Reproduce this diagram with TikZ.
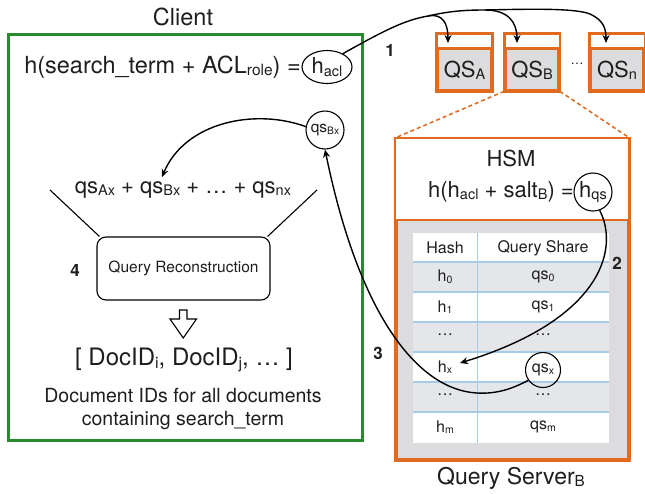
\documentclass[tikz,border=0pt]{standalone}
\usepackage{fontspec}
\setmainfont{TeX Gyre Heros}
\usetikzlibrary{arrows.meta,shapes.geometric,calc}
\definecolor{cgreen}{HTML}{2A8A2E}
\definecolor{qorange}{HTML}{E06A1E}
\definecolor{boxgray}{HTML}{DCDCDE}
\definecolor{rowgray}{HTML}{E4E6EA}
\definecolor{tblue}{HTML}{A6CBE6}
\definecolor{ink}{HTML}{1E1E1E}
% subscript set a little below the baseline at about two thirds of the size
\makeatletter
\newcommand\lo[1]{\raisebox{-0.1em}{\fontsize{\fpeval{0.66*\f@size}}{0}\selectfont #1}}
\makeatother
\begin{document}
\begin{tikzpicture}[x=1pt,y=-1pt,
  every node/.style={inner sep=0pt, text=ink},
  big/.style={font=\fontsize{22}{26}\selectfont},
  wide/.style={font=\fontsize{23.5}{27}\selectfont},
  mid/.style={font=\fontsize{19.5}{23.5}\selectfont},
  small/.style={font=\fontsize{15.5}{18}\selectfont},
  cell/.style={font=\fontsize{16}{19}\selectfont},
  num/.style={font=\fontsize{17}{20}\selectfont\bfseries},
  arr/.style={draw=black, line width=1.4pt, -{Stealth[length=8pt,width=7pt]}},
  ring/.style={draw=black, line width=1.1pt, circle, inner sep=1pt},
  qsbox/.style={draw=qorange, line width=2.6pt, fill=boxgray, minimum width=53pt, minimum height=55pt},
]
\fill[white] (0,0) rectangle (645,493);
\useasboundingbox (0,0) rectangle (645,493);

% ---------------- client ----------------
\node[draw=cgreen, line width=2.6pt, minimum width=354pt, minimum height=406pt, anchor=north west] (client) at (7,33) {};
\node[wide] (clientlbl) at (183,17) {Client};

\node[wide, anchor=east] (eq) at (301,67) {h(search\_term + ACL\lo{role}) =};
\node[big, draw=black, line width=1.1pt, ellipse, inner sep=0.5pt, minimum width=50pt, minimum height=33pt] (hacl) at (327,67) {h\lo{acl}};

\node[ring, small, minimum size=38pt] (qsbx) at (325,130) {qs\lo{Bx}};

\node[big] (sum) at (183,190) {qs\lo{Ax} + qs\lo{Bx} + … + qs\lo{nx}};
\coordinate (sumB) at (162,177);
\draw[arr] (qsbx.170) .. controls (255,108) and (185,122) .. (sumB);

\node[small, draw=black, line width=1.1pt, rounded corners=9pt, minimum width=173pt, minimum height=63pt] (rec) at (183.5,268.5) {Query Reconstruction};
\coordinate (fl) at (50,190);
\coordinate (fr) at (317,190);
\draw[line width=1.1pt] (fl) -- ($(rec.north west)+(3,0)$);
\draw[line width=1.1pt] (fr) -- ($(rec.north east)+(-3,0)$);
\node[num] (n4) at (75,270) {4};

% hollow arrow down to the result
\draw[line width=1.1pt, fill=white] (179.5,310) -- (187,310) -- (187,319) -- (196.5,319) -- (183.25,338) -- (170,319) -- (179.5,319) -- cycle;

\node[font=\fontsize{24}{28}\selectfont] (docs) at (184,360) {[ DocID\lo{i}, DocID\lo{j}, … ]};
\node[mid, align=center] (desc) at (183,409) {Document IDs for all documents\\[-1pt]containing search\_term};

% ---------------- query servers ----------------
\foreach \n/\cx/\s in {A/464.5/A, B/532/B, N/617/n} {
  \node[qsbox] (qs\n) at (\cx,62.5) {};
  \fill[white] ($(qs\n.north west)+(1.3,1.3)$) rectangle ($(qs\n.north east)+(-1.3,15)$);
  \draw[qorange, line width=2.6pt] ($(qs\n.north west)+(0,15)$) -- ($(qs\n.north east)+(0,15)$);
  \draw[qorange, line width=2.6pt] (qs\n.north west) rectangle (qs\n.south east);
  \node[big] (lbl\n) at (\cx,70) {QS\lo{\s}};
}
\node[font=\fontsize{13}{15}\selectfont] (qdots) at (577,64) {…};

% step 1: h_acl sent to every server
\coordinate (jA) at (428,16);
\coordinate (jB) at (485,10);
\coordinate (tA) at (448,43);
\coordinate (tB) at (517,43);
\coordinate (tN) at (606,43);
\draw[arr] (hacl.40) .. controls (385,30) and (405,20) .. (jA) .. controls (450,11) and (465,10) .. (jB)
  .. controls (530,9) and (575,8) .. (590,14) .. controls (603,20) and (606,28) .. (tN);
\draw[arr] (jA) .. controls (443,13) and (448,24) .. (tA);
\draw[arr] (jB) .. controls (508,10) and (517,22) .. (tB);
\node[num] (n1) at (390,50) {1};

% ---------------- query server B in detail ----------------
\node[draw=qorange, line width=2.6pt, fill=boxgray, minimum width=232pt, minimum height=320pt, anchor=north west] (srv) at (395,138) {};
\fill[white] ($(srv.north west)+(1.3,1.3)$) rectangle ($(srv.north east)+(-1.3,82)$);
\draw[qorange, line width=2.6pt] ($(srv.north west)+(0,82)$) -- ($(srv.north east)+(0,82)$);
\draw[qorange, line width=2.6pt] (srv.north west) rectangle (srv.south east);
\draw[qorange, line width=1.5pt, dash pattern=on 4pt off 3pt] (qsB.south west) -- (srv.north west);
\draw[qorange, line width=1.5pt, dash pattern=on 4pt off 3pt] (qsB.south east) -- (srv.north east);

\node[big] (hsm) at (511,158) {HSM};
\node[big, anchor=east] (hsmeq) at (574,192) {h(h\lo{acl} + salt\lo{B}) =};
\node[ring, big, minimum size=38pt, inner sep=0pt] (hqs) at (593,192) {h\lo{qs}};

% lookup table
\fill[white] (413,233) rectangle (609,443);
\foreach \y in {262,322,382} \fill[rowgray] (413,\y) rectangle (609,\y+30);
\foreach \y in {262,292,322,352,382,412} \draw[tblue, line width=1.2pt] (413,\y) -- (609,\y);
\draw[tblue, line width=0.8pt] (477,233) -- (477,443);

\node[cell] (th) at (445,248) {Hash};
\node[cell] (tq) at (543,248) {Query Share};
\node[cell] (h0) at (445,277) {h\lo{0}};
\node[cell] (q0) at (543,277) {qs\lo{0}};
\node[cell] (h1) at (445,307) {h\lo{1}};
\node[cell] (q1) at (543,307) {qs\lo{1}};
\node[cell] (hd1) at (445,335) {…};
\node[cell] (qd1) at (543,335) {…};
\node[cell] (hx) at (445,367) {h\lo{x}};
\node[cell, ring, minimum size=35pt, inner sep=0pt] (qsx) at (543,370) {qs\lo{x}};
\node[cell] (hd2) at (445,395) {…};
\node[cell] (qd2) at (543,395) {…};
\node[cell] (hm) at (445,427) {h\lo{m}};
\node[cell] (qm) at (543,427) {qs\lo{m}};

% step 2: h_qs looked up in the table
\coordinate (hxin) at (460,363);
\draw[arr] (hqs.290) .. controls (620,250) and (600,320) .. (hxin);
\node[num] (n2) at (617,263) {2};

% step 3: share returned to the client
\coordinate (low) at (477,393);
\draw[arr] (qsx.215) .. controls (510,390) and (495,394) .. (low) .. controls (420,390) and (360,320) .. (qsbx.south);
\node[num] (n3) at (378,353) {3};

\node[font=\fontsize{23}{27}\selectfont] (srvlbl) at (511,478) {Query Server\lo{B}};
\end{tikzpicture}
\end{document}
